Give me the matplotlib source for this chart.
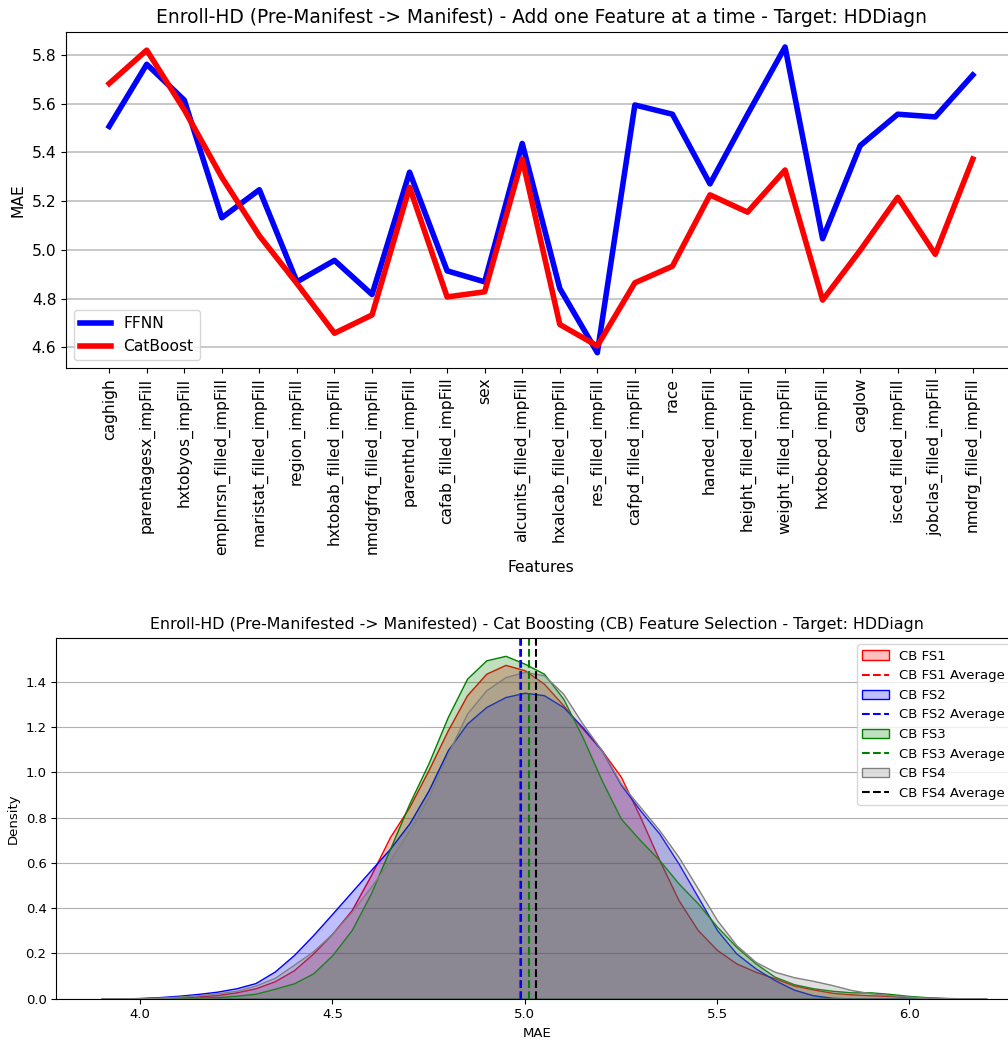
import numpy as np
import matplotlib
matplotlib.use("Agg")
import matplotlib.pyplot as plt
from matplotlib.patches import Patch
from matplotlib.lines import Line2D

# ---- forward selection results (one feature added at a time) ----
features = ['caghigh', 'parentagesx_impFill', 'hxtobyos_impFill', 'emplnrsn_filled_impFill',
            'maristat_filled_impFill', 'region_impFill', 'hxtobab_filled_impFill',
            'nmdrgfrq_filled_impFill', 'parenthd_impFill', 'cafab_filled_impFill', 'sex',
            'alcunits_filled_impFill', 'hxalcab_filled_impFill', 'res_filled_impFill',
            'cafpd_filled_impFill', 'race', 'handed_impFill', 'height_filled_impFill',
            'weight_filled_impFill', 'hxtobcpd_impFill', 'caglow', 'isced_filled_impFill',
            'jobclas_filled_impFill', 'nmdrg_filled_impFill']

ffnn_mae = [5.507, 5.762, 5.615, 5.132, 5.247, 4.869, 4.957, 4.817, 5.319, 4.914, 4.869, 5.437,
            4.842, 4.578, 5.595, 5.557, 5.271, 5.556, 5.833, 5.046, 5.428, 5.557, 5.546, 5.718]

catboost_mae = [5.683, 5.820, 5.575, 5.298, 5.058, 4.862, 4.658, 4.733, 5.257, 4.807, 4.828, 5.373,
                4.694, 4.606, 4.865, 4.933, 5.226, 5.155, 5.328, 4.794, 4.998, 5.216, 4.982, 5.373]

# ---- density of MAE for the four CB feature sets (evaluated on mae_grid) ----
mae_grid = np.round(np.arange(3.90, 6.201, 0.05), 2)

dens_fs1 = [0.0, 0.0, 0.002, 0.004, 0.006, 0.010, 0.016, 0.028, 0.046, 0.077,
            0.126, 0.200, 0.288, 0.391, 0.545, 0.715, 0.847, 1.010, 1.185, 1.340,
            1.435, 1.474, 1.450, 1.391, 1.296, 1.193, 1.097, 0.980, 0.803, 0.612,
            0.435, 0.303, 0.215, 0.156, 0.119, 0.090, 0.058, 0.041, 0.026, 0.019,
            0.015, 0.012, 0.007, 0.004, 0.002, 0.001, 0.0]

dens_fs2 = [0.0, 0.001, 0.003, 0.007, 0.013, 0.021, 0.031, 0.046, 0.069, 0.120,
            0.193, 0.281, 0.376, 0.472, 0.568, 0.663, 0.774, 0.920, 1.097, 1.215,
            1.288, 1.332, 1.351, 1.340, 1.288, 1.200, 1.097, 0.945, 0.832, 0.729,
            0.597, 0.450, 0.303, 0.200, 0.134, 0.082, 0.040, 0.015, 0.004, 0.001,
            0.0, 0.0, 0.0, 0.0, 0.0, 0.0, 0.0]

dens_fs3 = [0.0, 0.0, 0.001, 0.002, 0.003, 0.005, 0.007, 0.013, 0.022, 0.044,
            0.068, 0.112, 0.193, 0.303, 0.465, 0.663, 0.862, 1.040, 1.244, 1.413,
            1.494, 1.514, 1.479, 1.435, 1.325, 1.156, 0.965, 0.795, 0.700, 0.612,
            0.509, 0.421, 0.318, 0.229, 0.156, 0.097, 0.064, 0.046, 0.035, 0.028,
            0.028, 0.021, 0.012, 0.006, 0.003, 0.001, 0.0]

dens_fs4 = [0.0, 0.0, 0.002, 0.005, 0.009, 0.015, 0.024, 0.035, 0.058, 0.092,
            0.150, 0.210, 0.288, 0.384, 0.494, 0.612, 0.744, 0.890, 1.082, 1.259,
            1.362, 1.420, 1.443, 1.428, 1.347, 1.215, 1.097, 0.950, 0.847, 0.744,
            0.626, 0.487, 0.347, 0.237, 0.163, 0.119, 0.095, 0.079, 0.060, 0.038,
            0.024, 0.016, 0.009, 0.004, 0.001, 0.0, 0.0]

avg_mae = [4.988, 4.990, 5.010, 5.029]
fs_labels = ['CB FS1', 'CB FS2', 'CB FS3', 'CB FS4']
fs_colors = ['red', 'blue', 'green', 'gray']
avg_colors = ['red', 'blue', 'green', 'black']

fig = plt.figure(figsize=(10.08, 10.40), dpi=100)

# ---------------- top: MAE per added feature ----------------
ax1 = fig.add_axes([66 / 1008, 1 - 368 / 1040, 950 / 1008, 336.3 / 1040])
x = np.arange(len(features))
ax1.plot(x, ffnn_mae, color='blue', lw=4, label='FFNN')
ax1.plot(x, catboost_mae, color='red', lw=4, label='CatBoost')
ax1.set_xticks(x)
ax1.set_xticklabels(features, rotation=90, fontsize=11.2)
ax1.tick_params(axis='y', labelsize=11.2)
ax1.set_xlabel('Features', fontsize=11.2)
ax1.set_ylabel('MAE', fontsize=11.2)
ax1.set_title('Enroll-HD (Pre-Manifest -> Manifest) - Add one Feature at a time - Target: HDDiagn',
              fontsize=13.4)
ax1.grid(axis='y', color='#c4c4c4', lw=1.3)
ax1.set_axisbelow(True)
ax1.legend(loc='lower left', fontsize=11.2)

# ---------------- bottom: KDE of MAE per feature set ----------------
ax2 = fig.add_axes([56.3 / 1008, 1 - 998.7 / 1040, (1017 - 56.3) / 1008, 361 / 1040])
handles = []
for dens, avg, lab, c, ac in zip([dens_fs1, dens_fs2, dens_fs3, dens_fs4], avg_mae,
                                 fs_labels, fs_colors, avg_colors):
    ax2.fill_between(mae_grid, dens, facecolor=matplotlib.colors.to_rgba(c, 0.25),
                     edgecolor=c, lw=1)
    ax2.axvline(avg, color=ac, ls='--', lw=1.5)
    handles.append(Patch(facecolor=matplotlib.colors.to_rgba(c, 0.25), edgecolor=c, lw=1, label=lab))
    handles.append(Line2D([0], [0], color=ac, ls='--', lw=1.5, label=lab + ' Average'))

ax2.set_xlim(3.782, 6.28)
ax2.set_ylim(0, 1.594)
ax2.set_xticks([4.0, 4.5, 5.0, 5.5, 6.0])
ax2.tick_params(labelsize=9.5)
ax2.set_xlabel('MAE', fontsize=9.5)
ax2.set_ylabel('Density', fontsize=9.5)
ax2.set_title('Enroll-HD (Pre-Manifested -> Manifested) - Cat Boosting (CB) Feature Selection - Target: HDDiagn',
              fontsize=11.4)
ax2.grid(axis='y', color='#b0b0b0', lw=0.8)
ax2.set_axisbelow(True)
ax2.legend(handles=handles, loc='upper right', fontsize=9.5)

fig.savefig('out.png', dpi=100)
